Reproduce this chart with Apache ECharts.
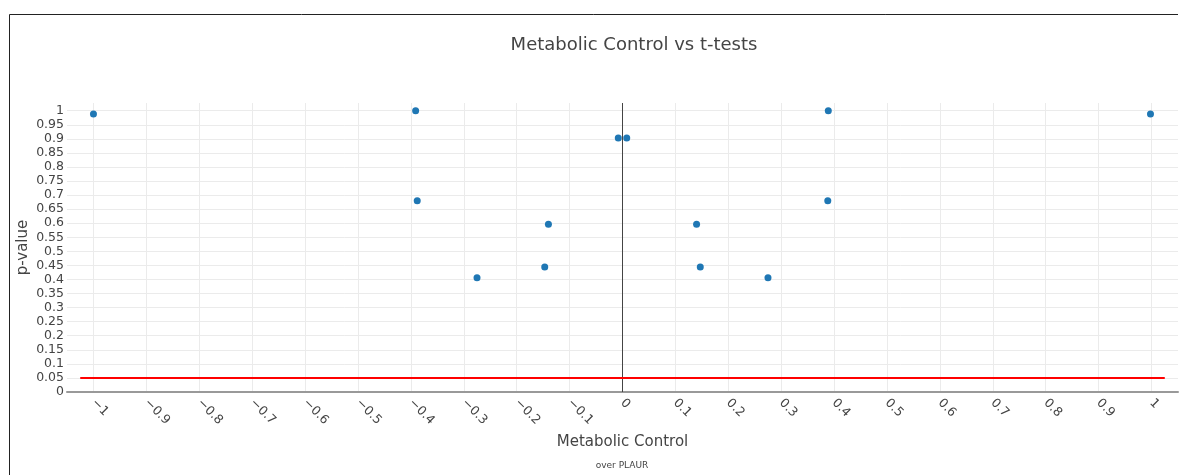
<!DOCTYPE html>
<html>
<head>
<meta charset="utf-8">
<script src="https://cdn.jsdelivr.net/npm/echarts@6/dist/echarts.min.js"></script>
<style>
html,body{margin:0;padding:0;background:#fff;}
#chart{width:1179px;height:475px;}
</style>
</head>
<body>
<div id="chart"></div>
<script>
// Data
const xValues = [-1, -0.391, -0.388, -0.275, -0.147, -0.14, -0.008, 0.008, 0.14, 0.147, 0.275, 0.388, 0.389, 0.998];
const pValues = [0.988, 1.0, 0.68, 0.406, 0.444, 0.596, 0.903, 0.903, 0.596, 0.444, 0.406, 0.68, 1.0, 0.988];
const threshold = 0.05;
const thresholdX = [-1.025, 1.025];
const titleText = 'Metabolic Control vs t-tests';
const xName = 'Metabolic Control';
const yName = 'p-value';
const subName = 'over PLAUR';

const FONT = 'DejaVu Sans';
const fmt = v => (Math.round(v * 100) / 100).toString().replace('-', '\u2212');

const chart = echarts.init(document.getElementById('chart'));
chart.setOption({
  animation: false,
  backgroundColor: '#fff',
  textStyle: { fontFamily: FONT },
  title: {
    text: titleText,
    left: 629, top: 31, textAlign: 'center',
    textStyle: { fontFamily: FONT, fontSize: 18, fontWeight: 'normal', color: '#444' }
  },
  grid: [
    { left: 67, right: 1, top: 103, bottom: 83 },
    { left: 93.45, right: 27.45, top: 103, bottom: 83 }
  ],
  xAxis: [
    {
      gridIndex: 0, type: 'value', min: -1.05, max: 1.05,
      axisLine: { show: true, onZero: false, lineStyle: { color: '#999', width: 2 } },
      axisTick: { show: false }, axisLabel: { show: false }, splitLine: { show: false },
      name: xName, nameLocation: 'middle', nameGap: 43, nameMoveOverlap: false,
      nameTextStyle: { fontFamily: FONT, fontSize: 15, color: '#444' }
    },
    {
      gridIndex: 1, type: 'value', min: -1, max: 1, interval: 0.1,
      axisLine: { show: false }, axisTick: { show: false },
      axisLabel: { rotate: -45, margin: 9, fontFamily: FONT, fontSize: 12.5, color: '#444', formatter: fmt },
      splitLine: { show: true, lineStyle: { color: '#ebebeb', width: 1 } }
    }
  ],
  yAxis: [
    {
      gridIndex: 0, type: 'value', min: 0, max: 1.0274, interval: 0.05,
      axisLine: { show: false }, axisTick: { show: false },
      axisLabel: { margin: 3, fontFamily: FONT, fontSize: 12.5, color: '#444', showMaxLabel: false,
        formatter: v => (v > 1.001 ? '' : fmt(v)) },
      splitLine: { show: true, showMaxLine: false, lineStyle: { color: '#ebebeb', width: 1 } },
      name: yName, nameLocation: 'middle', nameGap: 36, nameMoveOverlap: false,
      nameTextStyle: { fontFamily: FONT, fontSize: 15, color: '#444' }
    },
    {
      gridIndex: 1, type: 'value', min: 0, max: 1.0274, show: false
    }
  ],
  graphic: [
    {
      type: 'polyline', silent: true, z: 100,
      shape: { points: [[9.5, 475], [9.5, 14.5], [1178, 14.5]] },
      style: { stroke: '#222', lineWidth: 1, fill: null }
    },
    {
      type: 'text', silent: true,
      x: 622, y: 466,
      style: { text: subName, textAlign: 'center', textVerticalAlign: 'middle', fontFamily: FONT, fontSize: 9, fill: '#444' }
    }
  ],
  series: [
    {
      type: 'line', xAxisIndex: 0, yAxisIndex: 0, symbol: 'none', silent: true,
      data: [[0, 0], [0, 1.0274]],
      lineStyle: { color: '#444', width: 1 }, z: 3
    },
    {
      type: 'line', xAxisIndex: 0, yAxisIndex: 0, symbol: 'none', silent: true,
      data: [[thresholdX[0], threshold], [thresholdX[1], threshold]],
      lineStyle: { color: '#ff0000', width: 2 }, z: 4
    },
    {
      type: 'scatter', xAxisIndex: 0, yAxisIndex: 0,
      data: xValues.map((x, i) => [x, pValues[i]]),
      symbolSize: 7,
      itemStyle: { color: '#1f77b4', opacity: 1 }, z: 5
    }
  ]
});
</script>
</body>
</html>
